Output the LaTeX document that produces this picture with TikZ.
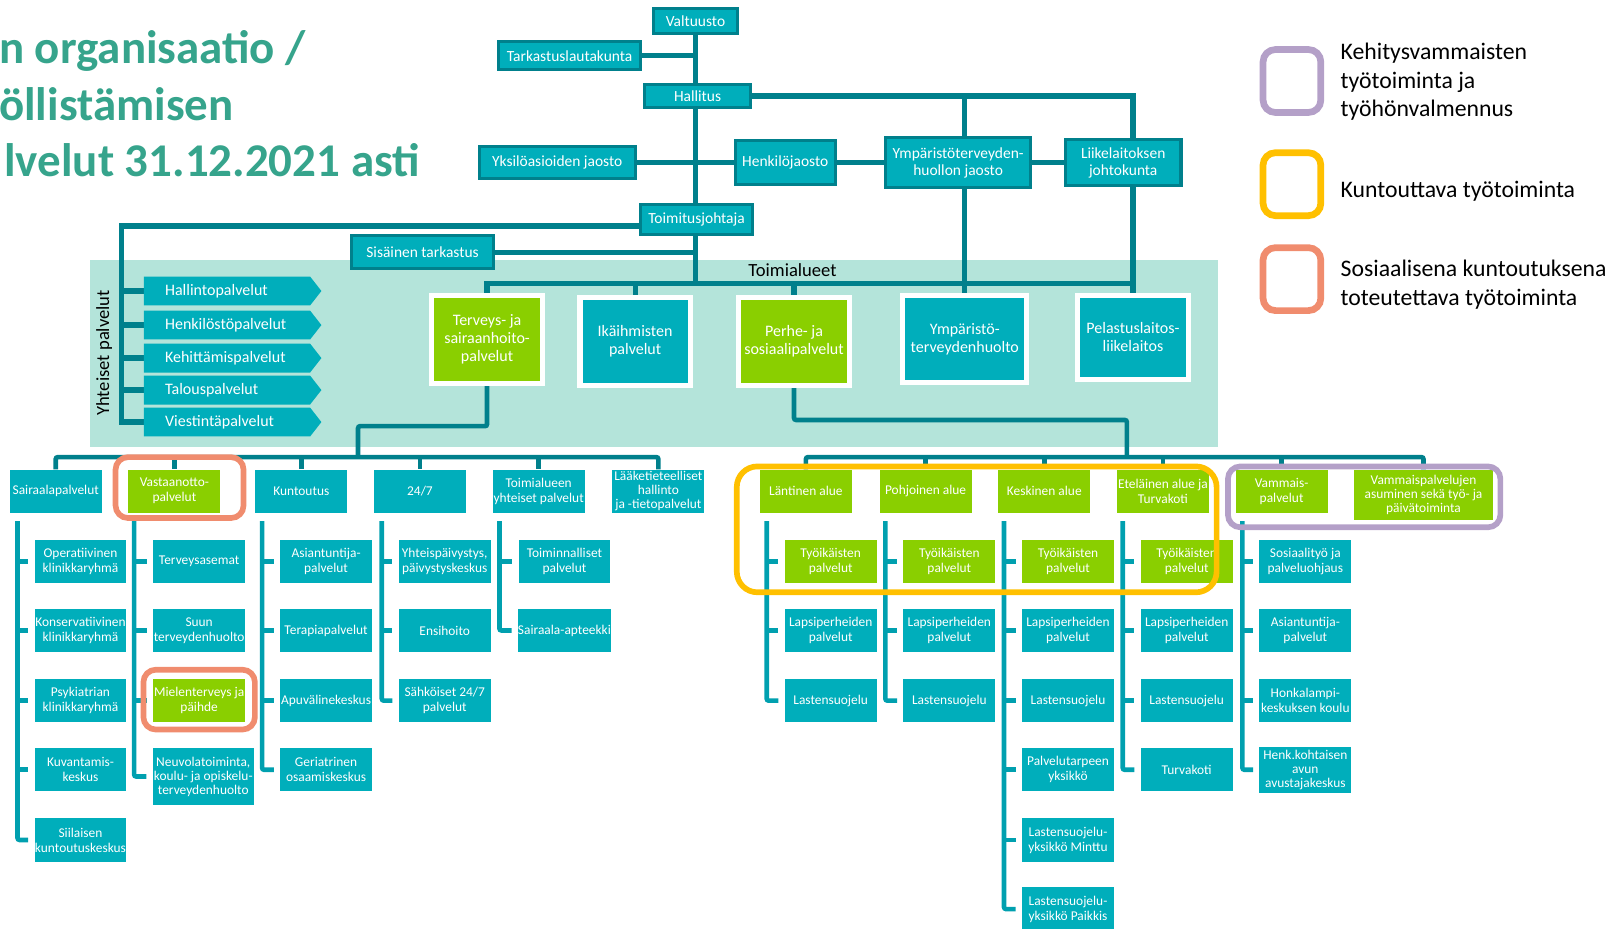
\documentclass[tikz,border=0pt]{standalone}
\usepackage{fontspec}
\setmainfont{Carlito}
\usetikzlibrary{shapes.symbols,calc}
\definecolor{tdark}{RGB}{0,128,140}
\definecolor{tfill}{RGB}{0,174,187}
\definecolor{tgreen}{RGB}{138,207,0}
\definecolor{tbg}{RGB}{180,228,218}
\definecolor{tline}{RGB}{0,160,175}
\definecolor{ttitle}{RGB}{54,164,140}
\definecolor{lpurple}{RGB}{180,160,200}
\definecolor{lyellow}{RGB}{255,192,0}
\definecolor{lorange}{RGB}{240,140,110}
\pgfdeclarelayer{back}\pgfdeclarelayer{mid}\pgfsetlayers{back,mid,main}
\tikzset{
  topbox/.style={draw=tdark, line width=3pt, fill=tfill, text=white, align=center, inner sep=0pt, font=\fontsize{15}{16.5}\selectfont},
  areabox/.style={draw=white, line width=5pt, text=white, align=center, inner sep=0pt, minimum width=107pt, minimum height=85pt, font=\fontsize{15.5}{17.5}\selectfont},
  subbox/.style={fill=tfill, text=white, align=center, inner sep=0pt, minimum width=89pt, minimum height=42pt, font=\fontsize{13}{14.5}\selectfont},
  tight/.style={font=\fontsize{13}{13.5}\selectfont},
  grn/.style={fill=tgreen},
  chev/.style={shape=signal, signal to=east, signal pointer angle=104, fill=tfill, text=white, minimum width=172pt, minimum height=28pt, inner sep=0pt, text width=120pt, align=left, font=\fontsize{15.5}{17}\selectfont},
  conn/.style={draw=tdark, line width=5pt},
  busl/.style={draw=tdark, line width=4.5pt, rounded corners=2pt},
  subl/.style={draw=tline, line width=4.5pt, rounded corners=2pt},
  hlbox/.style={line width=5.5pt, rounded corners=12pt},
  titletext/.style={text=ttitle, inner sep=0pt, font=\fontsize{45.5}{50}\selectfont\bfseries},
  legbox/.style={line width=6.5pt, rounded corners=12pt, minimum width=56pt, minimum height=61pt, inner sep=0pt},
  legtext/.style={anchor=west, align=left, inner sep=0pt, font=\fontsize{23}{27.5}\selectfont},
}
\begin{document}
\begin{tikzpicture}[x=1pt,y=-1pt]
\useasboundingbox (0,0) rectangle (1568,900);
\begin{pgfonlayer}{back}
\fill[tbg] (87,252) rectangle (1180,433);
\end{pgfonlayer}

% title
\node[titletext, anchor=base west] (t1) at (-1,62) {n organisaatio /};
\node[titletext, anchor=base west] (t2) at (-1,117) {öllistämisen};
\node[titletext, anchor=base west] (t3) at (4,171) {lvelut 31.12.2021 asti};

% top
\node[topbox, minimum width=82pt, minimum height=24pt] (valt) at (674,20.5) {Valtuusto};
\node[topbox, minimum width=137pt, minimum height=27pt] (tark) at (552,54) {Tarkastuslautakunta};
\node[topbox, minimum width=102pt, minimum height=23pt] (hall) at (676,93) {Hallitus};
\node[topbox, minimum width=151pt, minimum height=31pt] (yks) at (540,157.5) {Yksilöasioiden jaosto};
\node[topbox, minimum width=97pt, minimum height=43pt] (henk) at (761,157.5) {Henkilöjaosto};
\node[topbox, minimum width=140pt, minimum height=49pt] (ymp) at (928.5,157.5) {Ympäristöterveyden-\\huollon jaosto};
\node[topbox, minimum width=112pt, minimum height=45pt] (liik) at (1088.5,157.5) {Liikelaitoksen\\johtokunta};
\node[topbox, minimum width=109pt, minimum height=29pt] (toim) at (675,213) {Toimitusjohtaja};
\node[topbox, minimum width=138pt, minimum height=32pt] (sis) at (409.5,244.5) {Sisäinen tarkastus};

\node[inner sep=0pt, font=\fontsize{18}{20}\selectfont] (tlab) at (768,262) {Toimialueet};
\node[inner sep=0pt, rotate=90, font=\fontsize{18}{20}\selectfont] (ylab) at (101,342) {Yhteiset palvelut};

% toimialueet
\node[areabox, grn] (ta1) at (472,329) {Terveys- ja\\sairaanhoito-\\palvelut};
\node[areabox, fill=tfill] (ta2) at (615.5,331) {Ikäihmisten\\palvelut};
\node[areabox, grn] (ta3) at (769.5,331) {Perhe- ja\\sosiaalipalvelut};
\node[areabox, fill=tfill, minimum width=120pt] (ta4) at (935,328.5) {Ympäristö-\\terveydenhuolto};
\node[areabox, fill=tfill, minimum width=108pt, minimum height=81pt] (ta5) at (1098,327) {Pelastuslaitos-\\liikelaitos};

% yhteiset
\node[chev] (ch1) at (220,282) {Hallintopalvelut};
\node[chev] (ch2) at (220,315) {Henkilöstöpalvelut};
\node[chev] (ch3) at (220,347) {Kehittämispalvelut};
\node[chev] (ch4) at (220,378) {Talouspalvelut};
\node[chev] (ch5) at (220,409) {Viestintäpalvelut};

% left header row
\node[subbox] (s1) at (54,476) {Sairaalapalvelut};
\node[subbox, grn] (s2) at (169,476) {Vastaanotto-\\palvelut};
\node[subbox] (s3) at (292,476) {Kuntoutus};
\node[subbox] (s4) at (407,476) {24/7};
\node[subbox] (s5) at (522,476) {Toimialueen\\yhteiset palvelut};
\node[subbox, tight] (s6) at (638,476) {Lääketieteelliset\\hallinto\\ja -tietopalvelut};

\node[subbox] (a1) at (78,544) {Operatiivinen\\klinikkaryhmä};
\node[subbox] (a2) at (78,611) {Konservatiivinen\\klinikkaryhmä};
\node[subbox] (a3) at (78,679) {Psykiatrian\\klinikkaryhmä};
\node[subbox] (a4) at (78,746) {Kuvantamis-\\keskus};
\node[subbox] (a5) at (78,814) {Siilaisen\\kuntoutuskeskus};

\node[subbox] (b1) at (193,544) {Terveysasemat};
\node[subbox] (b2) at (193,611) {Suun\\terveydenhuolto};
\node[subbox, grn] (b3) at (193,679) {Mielenterveys ja\\päihde};
\node[subbox, tight, minimum width=98pt, minimum height=55pt] (b4) at (197,752.5) {Neuvolatoiminta,\\koulu- ja opiskelu-\\terveydenhuolto};

\node[subbox] (c1) at (316,544) {Asiantuntija-\\palvelut};
\node[subbox] (c2) at (316,611) {Terapiapalvelut};
\node[subbox] (c3) at (316,679) {Apuvälinekeskus};
\node[subbox] (c4) at (316,746) {Geriatrinen\\osaamiskeskus};

\node[subbox] (d1) at (431,544) {Yhteispäivystys,\\päivystyskeskus};
\node[subbox] (d2) at (431,611) {Ensihoito};
\node[subbox] (d3) at (431,679) {Sähköiset 24/7\\palvelut};

\node[subbox] (e1) at (547,544) {Toiminnalliset\\palvelut};
\node[subbox] (e2) at (547,611) {Sairaala-apteekki};

% right header row
\node[subbox, grn] (r1) at (781,476) {Läntinen alue};
\node[subbox, grn] (r2) at (897,476) {Pohjoinen alue};
\node[subbox, grn] (r3) at (1012,476) {Keskinen alue};
\node[subbox, grn] (r4) at (1127,476) {Eteläinen alue ja\\Turvakoti};
\node[subbox, grn] (r5) at (1242,476) {Vammais-\\palvelut};
\node[subbox, grn, tight, minimum width=135pt, minimum height=49pt] (r6) at (1379.5,479.5) {Vammaispalvelujen\\asuminen sekä työ- ja\\päivätoiminta};

\node[subbox, grn] (l1) at (805,544) {Työikäisten\\palvelut};
\node[subbox] (l2) at (805,611) {Lapsiperheiden\\palvelut};
\node[subbox] (l3) at (805,679) {Lastensuojelu};

\node[subbox, grn] (p1) at (920,544) {Työikäisten\\palvelut};
\node[subbox] (p2) at (920,611) {Lapsiperheiden\\palvelut};
\node[subbox] (p3) at (920,679) {Lastensuojelu};

\node[subbox, grn] (k1) at (1035,544) {Työikäisten\\palvelut};
\node[subbox] (k2) at (1035,611) {Lapsiperheiden\\palvelut};
\node[subbox] (k3) at (1035,679) {Lastensuojelu};
\node[subbox] (k4) at (1035,746) {Palvelutarpeen\\yksikkö};
\node[subbox] (k5) at (1035,814) {Lastensuojelu-\\yksikkö Minttu};
\node[subbox] (k6) at (1035,881) {Lastensuojelu-\\yksikkö Paikkis};

\node[subbox, grn] (g1) at (1150,544) {Työikäisten\\palvelut};
\node[subbox] (g2) at (1150,611) {Lapsiperheiden\\palvelut};
\node[subbox] (g3) at (1150,679) {Lastensuojelu};
\node[subbox] (g4) at (1150,746) {Turvakoti};

\node[subbox] (v1) at (1265,544) {Sosiaalityö ja\\palveluohjaus};
\node[subbox] (v2) at (1265,611) {Asiantuntija-\\palvelut};
\node[subbox] (v3) at (1265,679) {Honkalampi-\\keskuksen koulu};
\node[subbox, tight, minimum height=44pt] (v4) at (1265,746) {Henk.kohtaisen\\avun\\avustajakeskus};

% connectors
\begin{pgfonlayer}{mid}
\coordinate (mx) at (674,0);
\coordinate (ybr) at (935,0);
\coordinate (lbr) at (1098,0);
\coordinate (tb) at (0,275);
\coordinate (lbus) at (0,443);
\coordinate (yy) at (118,219);
\coordinate (lk) at (347,413);
\coordinate (rk) at (1092,407);
\draw[conn] (valt.south) -- (valt.south |- tb);
\draw[conn] (tark.east) -- (tark.east -| mx);
\draw[conn] (yks.east) -- (yks.east -| mx);
\draw[conn] (henk.west) -- (henk.west -| mx);
\draw[conn] (henk.east) -- (ymp.west);
\draw[conn] (ymp.east) -- (liik.west);
\draw[conn] (hall.east) -| (lbr |- liik.north);
\draw[conn] (ybr |- hall.east) -- (ybr |- ymp.north);
\draw[conn] (ybr |- ymp.south) -- (ta4.north);
\draw[conn] (lbr |- liik.south) -- (ta5.north);
\draw[conn] (sis.east) -- (sis.east -| mx);
\draw[conn] (toim.west |- yy) -- (yy) |- (ch5.west);
\foreach \n in {ch1,ch2,ch3,ch4} \draw[conn] (\n.west -| yy) -- (\n.west);
\draw[conn] (ta1.north) |- (ta5.north |- tb);
\draw[conn] (ta2.north) -- (ta2.north |- tb);
\draw[conn] (ta3.north) -- (ta3.north |- tb);
\draw[busl] (ta1.south) |- (lk) -- (lk |- lbus);
\draw[busl] (ta3.south) |- (rk) -- (rk |- lbus);
\draw[busl] (s1.north) |- (s6.north |- lbus) -- (s6.north);
\foreach \n in {s2,s3,s4,s5} \draw[busl] (\n.north |- lbus) -- (\n.north);
\draw[busl] (r1.north) |- (r6.north |- lbus) -- (r6.north);
\foreach \n in {r2,r3,r4,r5} \draw[busl] (\n.north |- lbus) -- (\n.north);
% sub columns
\coordinate (cA) at (17,505);
\coordinate (cB) at (130,505);
\coordinate (cC) at (254,505);
\coordinate (cD) at (370,505);
\coordinate (cE) at (484,505);
\coordinate (cL) at (743,505);
\coordinate (cP) at (858,505);
\coordinate (cK) at (973,505);
\coordinate (cG) at (1088,505);
\coordinate (cV) at (1204,505);
\draw[subl] (cA) |- ([xshift=-6pt]a5.west);
\foreach \n in {a1,a2,a3,a4} \draw[subl] (\n.west -| cA) -- ([xshift=-6pt]\n.west);
\draw[subl] (cB) |- ([xshift=-6pt]b4.west);
\foreach \n in {b1,b2,b3} \draw[subl] (\n.west -| cB) -- ([xshift=-6pt]\n.west);
\draw[subl] (cC) |- ([xshift=-6pt]c4.west);
\foreach \n in {c1,c2,c3} \draw[subl] (\n.west -| cC) -- ([xshift=-6pt]\n.west);
\draw[subl] (cD) |- ([xshift=-6pt]d3.west);
\foreach \n in {d1,d2} \draw[subl] (\n.west -| cD) -- ([xshift=-6pt]\n.west);
\draw[subl] (cE) |- ([xshift=-6pt]e2.west);
\draw[subl] (e1.west -| cE) -- ([xshift=-6pt]e1.west);
\draw[subl] (cL) |- ([xshift=-6pt]l3.west);
\foreach \n in {l1,l2} \draw[subl] (\n.west -| cL) -- ([xshift=-6pt]\n.west);
\draw[subl] (cP) |- ([xshift=-6pt]p3.west);
\foreach \n in {p1,p2} \draw[subl] (\n.west -| cP) -- ([xshift=-6pt]\n.west);
\draw[subl] (cK) |- ([xshift=-6pt]k6.west);
\foreach \n in {k1,k2,k3,k4,k5} \draw[subl] (\n.west -| cK) -- ([xshift=-6pt]\n.west);
\draw[subl] (cG) |- ([xshift=-6pt]g4.west);
\foreach \n in {g1,g2,g3} \draw[subl] (\n.west -| cG) -- ([xshift=-6pt]\n.west);
\draw[subl] (cV) |- ([xshift=-6pt]v4.west);
\foreach \n in {v1,v2,v3} \draw[subl] (\n.west -| cV) -- ([xshift=-6pt]\n.west);
\end{pgfonlayer}

% highlights
\draw[hlbox, lorange] (112,443) rectangle (236,502);
\draw[hlbox, lorange] (139,649) rectangle (247,707);
\draw[hlbox, lyellow, rounded corners=20pt] (714,452) rectangle (1179,574);
\draw[hlbox, lpurple] (1190,452) rectangle (1454,511);

% legend
\node[legbox, draw=lpurple] (lg1) at (1252,78.5) {};
\node[legbox, draw=lyellow] (lg2) at (1252,178.5) {};
\node[legbox, draw=lorange] (lg3) at (1252,270.5) {};
\node[legtext] (lt1) at (1299,79.5) {Kehitysvammaisten\\työtoiminta ja\\työhönvalmennus};
\node[legtext] (lt2) at (1299,185) {Kuntouttava työtoiminta};
\node[legtext] (lt3) at (1299,276) {Sosiaalisena kuntoutuksena\\toteutettava työtoiminta};
\end{tikzpicture}
\end{document}
